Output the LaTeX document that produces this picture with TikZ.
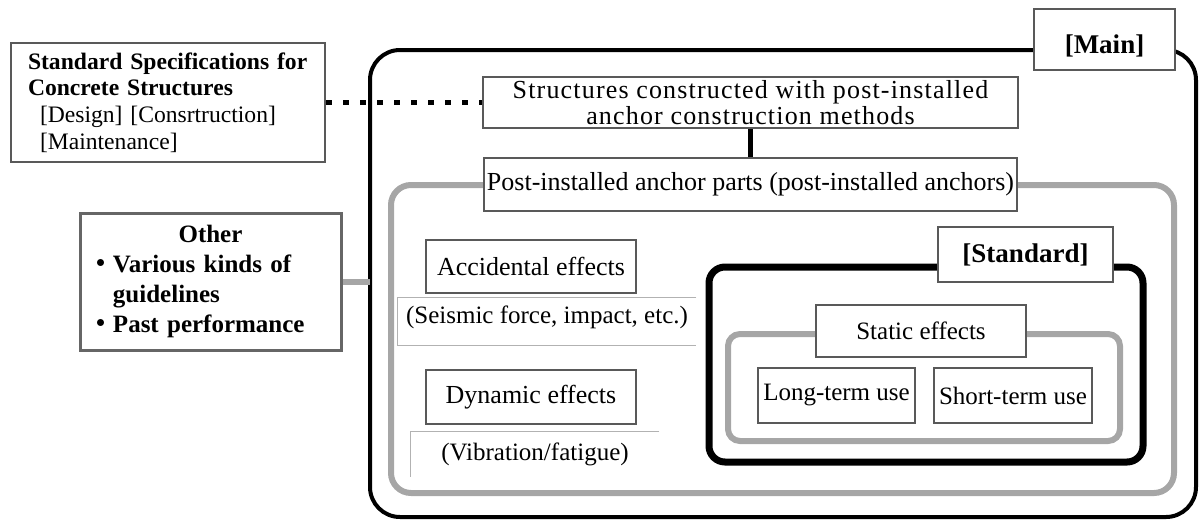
\documentclass[tikz,border=0pt]{standalone}
\usepackage{fontspec}
\setmainfont{Liberation Serif}
\newfontfamily\widefont[LetterSpace=4.5]{Liberation Serif}
\newfontfamily\cjk{Noto Sans CJK JP}

\begin{document}
\begin{tikzpicture}[x=0.5pt, y=-0.5pt,
		labelbox/.style={draw=black!65, line width=1pt, fill=white, inner sep=0pt, font=\fontsize{13}{15}\selectfont},
		plainbox/.style={inner sep=0pt, font=\fontsize{12.5}{15}\selectfont},
		blackframe/.style={draw=black, line width=2pt, rounded corners=15pt},
		greyframe/.style={draw=black!35, line width=3pt, rounded corners=10pt},
		sideline/.style={draw=black!30, line width=0.6pt},
	]
				\useasboundingbox (0,0) rectangle (1201,521);
				
				% frames
				\draw[blackframe] (370,50) rectangle (1196,517);
				\draw[greyframe] (391,185) rectangle (1174,493);
				\draw[blackframe, line width=3.5pt, rounded corners=8pt] (709,267) rectangle (1143,462);
				\draw[greyframe, rounded corners=6pt] (728,334) rectangle (1120,441);
				\coordinate (mainleft) at (370,280);
				
				% boxes
				\node[draw=black!65, line width=1pt, fill=white, minimum width=157pt, minimum height=59.5pt, inner sep=0pt, text width=140pt, align=left, font=\fontsize{11.8}{13.35}\selectfont] (spec) at (168,102.5) {{\bfseries \mbox{Standard Specifications for}\\Concrete Structures}\\\hspace*{6pt}[Design] [Consrtruction]\\\hspace*{6pt}[Maintenance]};
				\node[labelbox, minimum width=267.5pt, minimum height=25.5pt, align=center, font=\widefont\fontsize{13}{13}\selectfont] (struct) at (750.5,102.5) {Structures constructed with post-installed\\anchor construction methods};
				\node[labelbox, minimum width=266.5pt, minimum height=26.5pt] (post) at (750.5,184.5) {Post-installed anchor parts (post-installed anchors)};
				\node[labelbox, minimum width=70.5pt, minimum height=30.5pt, text height=13.5pt, text depth=0pt, font=\fontsize{13.5}{15}\selectfont\bfseries] (mainlbl) at (1104.5,39.5) {[Main]};
				\node[labelbox, minimum width=87.5pt, minimum height=27.5pt, font=\fontsize{13.5}{15}\selectfont\bfseries] (stdlbl) at (1025.5,254.5) {[Standard]};
				\node[draw=black!60, line width=1.5pt, fill=white, minimum width=130.5pt, minimum height=68.5pt, inner sep=0pt, text width=122.5pt, align=left, font=\fontsize{12.5}{14.85}\selectfont\bfseries] (other) at (210.5,281.5) {\makebox[\linewidth]{Other}\\{\cjk ・}Various kinds of\\\hspace*{12.5pt}guidelines\\{\cjk ・}Past performance};
				
				\node[labelbox, minimum width=105pt, minimum height=26.5pt] (accid) at (531,266.5) {Accidental effects};
				\node[plainbox, minimum width=149pt, minimum height=23.5pt, text height=8.6pt, text depth=7pt] (seis) at (547,321.5) {(Seismic force, impact, etc.)};
				\node[labelbox, minimum width=105pt, minimum height=27pt] (dyn) at (531,397) {Dynamic effects};
				\node[plainbox, minimum width=124pt, minimum height=22.5pt] (vib) at (535,454.5) {(Vibration/fatigue)};
				\node[labelbox, minimum width=105pt, minimum height=26pt, font=\fontsize{12.5}{15}\selectfont] (static) at (921,331) {Static effects};
				\node[labelbox, minimum width=78.5pt, minimum height=27.5pt, font=\fontsize{12.5}{15}\selectfont] (long) at (836.5,395.5) {Long-term use};
				\node[labelbox, minimum width=79pt, minimum height=27.5pt, font=\fontsize{12.5}{15}\selectfont] (short) at (1013,395.5) {Short-term use};
				
				% open boxes round the notes
				\draw[sideline] (seis.north east) -- (seis.north west) -- (seis.south west) -- (seis.south east);
				\draw[sideline] (vib.north east) -- (vib.north west) -- (vib.south west);
				
				% connectors
				\draw[line width=2.5pt, dash pattern=on 3pt off 5.5pt] (spec.east) -- (struct.west);
				\draw[line width=2.5pt] (struct.south) -- (post.north);
				\draw[draw=black!35, line width=3pt] (other.east) -- (other.east -| mainleft);
			\end{tikzpicture}
\end{document}
